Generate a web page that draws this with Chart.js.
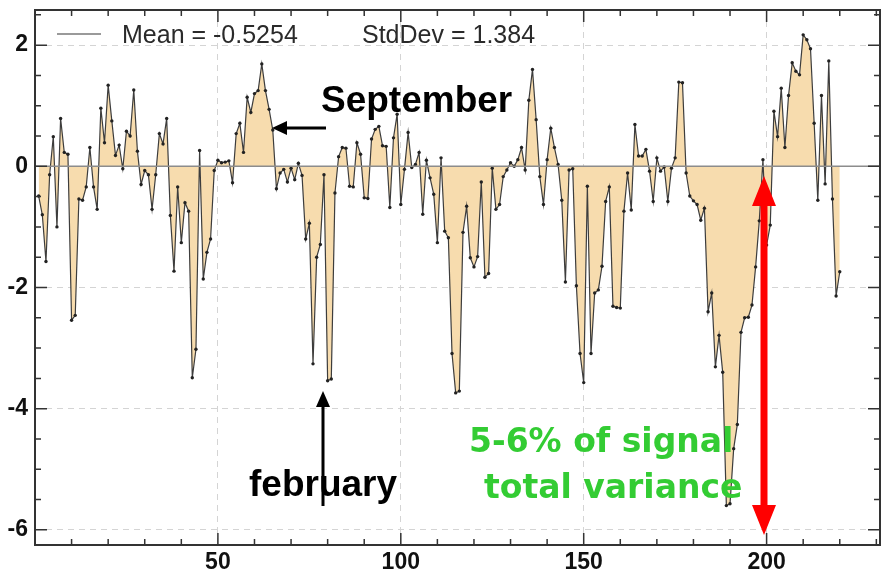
<!DOCTYPE html>
<html>
<head>
<meta charset="utf-8">
<script src="https://cdn.jsdelivr.net/npm/chart.js@4.4.1/dist/chart.umd.min.js"></script>
<style>
  html, body { margin: 0; padding: 0; background: #fff; }
  #wrap { width: 886px; height: 573px; }
</style>
</head>
<body>
<div id="wrap"><canvas id="anomalyChart" width="886" height="573"></canvas></div>
<script>
// values, one per sample (x = 1, 2, 3 ...)
const anomaly = [
  -0.49, -0.8, -1.57, -0.14, 0.49, -1.0, 0.79, 0.23, 0.2, -2.54,
  -2.46, -0.54, -0.56, -0.34, 0.31, -0.34, -0.71, 0.96, 0.39, 1.34,
  0.75, 0.18, 0.35, -0.04, 0.58, 0.5, 1.26, 0.25, -0.3, -0.07,
  -0.14, -0.71, -0.14, 0.54, 0.37, 0.79, -0.81, -1.73, -0.34, -1.26,
  -0.6, -0.74, -3.49, -3.02, 0.26, -1.86, -1.42, -1.2, -0.07, 0.1,
  0.06, 0.07, 0.09, -0.27, 0.54, 0.71, 0.23, 1.14, 0.89, 1.2,
  1.25, 1.69, 1.25, 0.94, 0.6, -0.37, -0.11, -0.05, -0.26, -0.03,
  -0.22, 0.05, -0.15, -1.2, -0.94, -3.26, -1.5, -1.29, -0.14, -3.54,
  -3.51, -0.44, 0.16, 0.31, 0.3, -0.33, -0.34, 0.39, 0.2, -0.52,
  -0.53, 0.45, 0.61, 0.66, 0.34, 0.33, -0.68, 0.47, 0.86, -0.63,
  -0.05, 0.56, -0.02, 0.03, 0.23, -0.79, 0.1, -0.19, -0.46, -1.26,
  0.14, -1.07, -1.18, -3.09, -3.74, -3.71, -1.09, -0.66, -1.51, -1.66,
  -1.49, -0.26, -1.83, -1.77, -0.03, -0.71, -0.63, -0.17, -0.06, 0.06,
  0.0, 0.11, 0.31, -0.06, 1.09, 1.6, 0.77, -0.17, -0.63, 0.11,
  0.63, 0.31, 0.03, -0.56, -1.91, -0.06, -0.04, -1.97, -3.09, -3.57,
  -0.33, -3.09, -2.09, -2.04, -1.65, -0.58, -0.34, -2.31, -2.33, -2.34,
  -0.74, -0.11, -0.72, 0.69, 0.17, 0.17, 0.28, -0.08, -0.58, 0.14,
  -0.08, -0.01, -0.58, -0.03, 0.14, 1.39, 1.38, -0.11, -0.49, -0.57,
  -0.63, -0.89, -0.69, -2.4, -2.09, -3.31, -2.79, -3.4, -5.6, -5.57,
  -4.66, -4.26, -2.74, -2.5, -2.49, -2.29, -1.66, -0.9, 0.11, -1.3,
  -0.97, 0.91, 0.49, 1.29, 0.31, 1.17, 1.71, 1.57, 1.51, 2.17,
  2.09, 1.94, 0.71, -0.56, 1.17, -0.29, 1.74, -0.54, -2.14, -1.74
];
const samples = anomaly.map((v, i) => i + 1);

const xTicks = [50, 100, 150, 200];
const yTicks = [-6, -4, -2, 0, 2];
const xMinorTicks = [10, 20, 30, 40, 50, 60, 70, 80, 90, 100, 110, 120, 130, 140, 150, 160, 170, 180, 190, 200, 210, 220, 230];
const yMinorTicks = [-6, -5.5, -5, -4.5, -4, -3.5, -3, -2.5, -2, -1.5, -1, -0.5, 0, 0.5, 1, 1.5, 2, 2.5];

const statsText = ["Mean = -0.5254", "StdDev = 1.384"];
const noteText = ["September", "february", "5-6% of signal", "total variance"];

const labelFont = { family: "'Liberation Sans', Arial, sans-serif", size: 23, weight: "bold" };

// frame, inward ticks, zero line, legend and the hand-written notes
const decorations = {
  id: "decorations",
  afterDatasetsDraw(chart) {
    const { ctx, chartArea: a, scales: { y } } = chart;
    ctx.save();
    ctx.strokeStyle = "#8c8c8c";
    ctx.lineWidth = 1.5;
    ctx.beginPath();
    ctx.moveTo(a.left, y.getPixelForValue(0));
    ctx.lineTo(a.right, y.getPixelForValue(0));
    ctx.stroke();
    ctx.restore();
  },
  afterDraw(chart) {
    const { ctx, chartArea: a, scales: { x, y } } = chart;
    ctx.save();

    // frame
    ctx.strokeStyle = "#333";
    ctx.lineWidth = 2;
    ctx.strokeRect(a.left, a.top, a.right - a.left, a.bottom - a.top);

    // inward ticks
    ctx.lineWidth = 1.5;
    ctx.beginPath();
    xMinorTicks.forEach(v => {
      const px = x.getPixelForValue(v);
      const len = v % 50 === 0 ? 12 : 6;
      ctx.moveTo(px, a.bottom); ctx.lineTo(px, a.bottom - len);
      ctx.moveTo(px, a.top); ctx.lineTo(px, a.top + len);
    });
    yMinorTicks.forEach(v => {
      const py = y.getPixelForValue(v);
      const len = v % 2 === 0 ? 12 : 6;
      ctx.moveTo(a.left, py); ctx.lineTo(a.left + len, py);
      ctx.moveTo(a.right, py); ctx.lineTo(a.right - len, py);
    });
    ctx.stroke();

    // legend line + stats
    ctx.strokeStyle = "#9a9a9a";
    ctx.lineWidth = 2;
    ctx.beginPath();
    ctx.moveTo(57, 34); ctx.lineTo(101, 34);
    ctx.stroke();
    ctx.fillStyle = "#2a2a2a";
    ctx.font = "25px 'Liberation Sans', Arial, sans-serif";
    ctx.textBaseline = "alphabetic";
    ctx.fillText(statsText[0], 122, 43);
    ctx.fillText(statsText[1], 362, 43);

    // month notes with black arrows
    ctx.fillStyle = "#000";
    ctx.font = "bold 37px 'Liberation Sans', Arial, sans-serif";
    ctx.fillText(noteText[0], 321, 112);
    ctx.fillText(noteText[1], 249, 496);

    ctx.strokeStyle = "#000";
    ctx.lineWidth = 3;
    ctx.beginPath();
    ctx.moveTo(326, 128); ctx.lineTo(284, 128);
    ctx.moveTo(323, 506); ctx.lineTo(323, 404);
    ctx.stroke();
    ctx.beginPath();
    ctx.moveTo(272, 128); ctx.lineTo(287, 121); ctx.lineTo(287, 135); ctx.closePath();
    ctx.moveTo(323, 391); ctx.lineTo(316, 407); ctx.lineTo(330, 407); ctx.closePath();
    ctx.fill();

    // red double arrow
    ctx.fillStyle = "#ff0000";
    ctx.strokeStyle = "#ff0000";
    ctx.lineWidth = 7;
    ctx.beginPath();
    ctx.moveTo(764, 200); ctx.lineTo(764, 510);
    ctx.stroke();
    ctx.beginPath();
    ctx.moveTo(764, 176); ctx.lineTo(752, 206); ctx.lineTo(776, 206); ctx.closePath();
    ctx.moveTo(764, 535); ctx.lineTo(752, 505); ctx.lineTo(776, 505); ctx.closePath();
    ctx.fill();

    // green note
    ctx.fillStyle = "#33cc33";
    ctx.font = "bold 33px 'Comic Sans MS', 'DejaVu Sans', sans-serif";
    ctx.fillText(noteText[2], 469, 452);
    ctx.fillText(noteText[3], 484, 498);

    ctx.restore();
  }
};

const canvas = document.getElementById("anomalyChart");

const anomalyChart = new Chart(canvas, {
  type: "line",
  data: {
    datasets: [
      {
        data: samples.map((s, i) => ({ x: s, y: anomaly[i] })),
        fill: "origin",
        backgroundColor: "#f7dcae",
        borderColor: "#3d3d3d",
        borderWidth: 1.2,
        pointRadius: 1.7,
        pointBackgroundColor: "#222",
        pointBorderWidth: 0,
        tension: 0,
      },
    ],
  },
  options: {
    responsive: false,
    animation: false,
    layout: {
      padding: { top: 10, right: 6, left: 0, bottom: 0 },
    },
    plugins: {
      legend: { display: false },
      tooltip: { enabled: false },
    },
    scales: {
      x: {
        type: "linear",
        min: 0,
        max: 231,
        afterBuildTicks: (s) => { s.ticks = xTicks.map(v => ({ value: v })); },
        afterFit: (s) => { s.height = 28; s.paddingLeft = 0; s.paddingRight = 0; },
        grid: { color: "#d4d4d4", lineWidth: 1, drawTicks: false },
        border: { display: false, dash: [6, 5] },
        ticks: { font: labelFont, color: "#111", padding: 4, maxRotation: 0 },
      },
      y: {
        min: -6.25,
        max: 2.58,
        afterBuildTicks: (s) => { s.ticks = yTicks.map(v => ({ value: v })); },
        afterFit: (s) => { s.width = 35; s.paddingTop = 0; s.paddingBottom = 0; },
        grid: {
          color: (c) => (c.tick && c.tick.value === 0 ? "rgba(0,0,0,0)" : "#d4d4d4"),
          lineWidth: 1,
          drawTicks: false,
        },
        border: { display: false, dash: [6, 5] },
        ticks: { font: labelFont, color: "#111", padding: 7 },
      },
    },
  },
  plugins: [decorations],
});
</script>
</body>
</html>
